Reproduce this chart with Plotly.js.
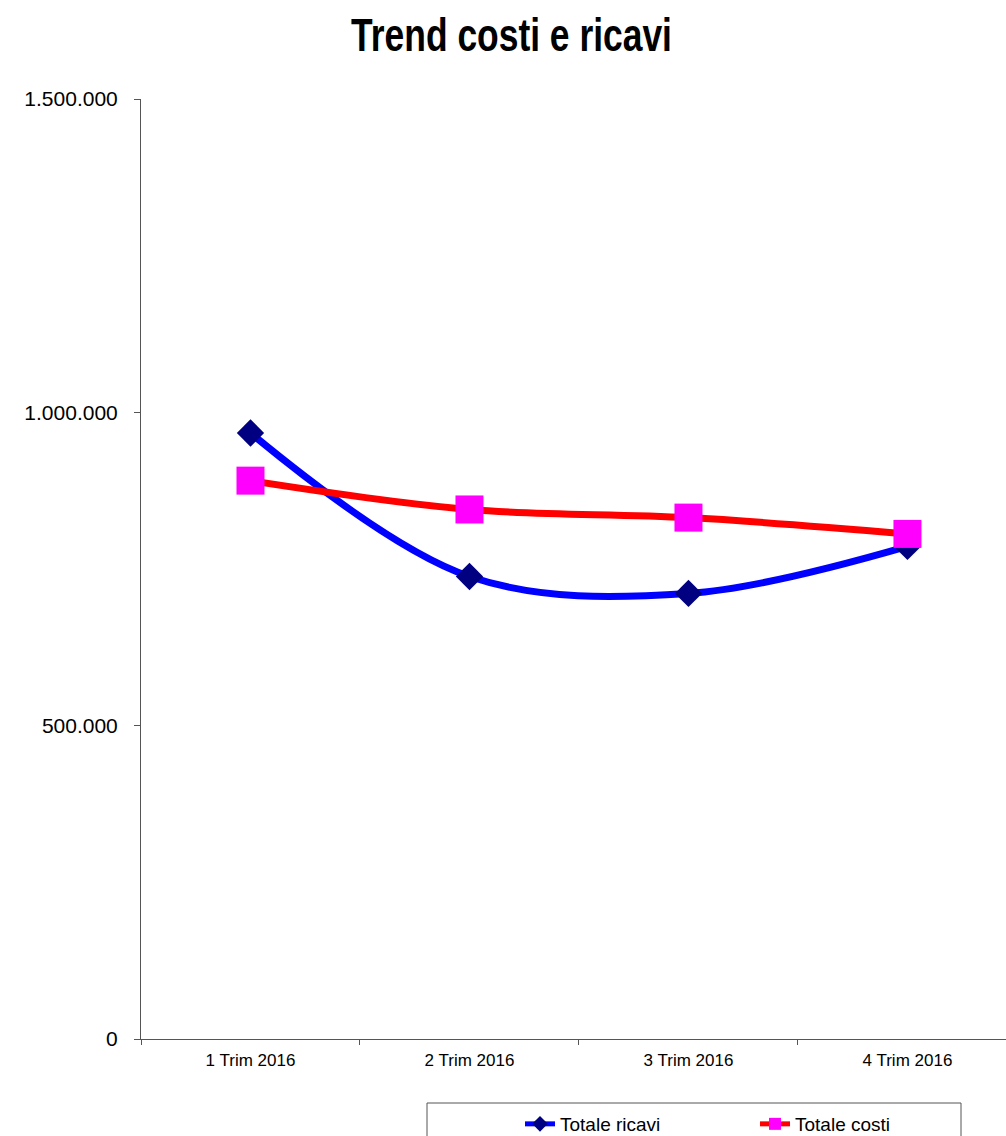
<!DOCTYPE html>
<html>
<head>
<meta charset="utf-8">
<script src="https://cdn.plot.ly/plotly-3.0.1.min.js"></script>
<style>
html,body{margin:0;padding:0;background:#fff;}
#chart{width:1006px;height:1136px;}
#chart .gtitle{transform-box:fill-box;transform-origin:center;transform:scaleX(0.77);}
</style>
</head>
<body>
<div id="chart"></div>
<script>
const categories = ['1 Trim 2016', '2 Trim 2016', '3 Trim 2016', '4 Trim 2016'];
const totaleRicavi = [967000, 738000, 711000, 786000];
const totaleCosti = [891000, 845000, 832000, 806000];
const yTickVals = [0, 500000, 1000000, 1500000];
const yTickText = ['0', '500.000', '1.000.000', '1.500.000'];

const traces = [
  {
    x: categories, y: totaleRicavi, name: 'Totale ricavi', type: 'scatter', mode: 'lines+markers',
    line: {color: '#0000FF', width: 7, shape: 'spline', smoothing: 1},
    marker: {symbol: 'diamond', color: '#000080', size: 21, line: {width: 0}}
  },
  {
    x: categories, y: totaleCosti, name: 'Totale costi', type: 'scatter', mode: 'lines+markers',
    line: {color: '#FF0000', width: 7, shape: 'spline', smoothing: 1},
    marker: {symbol: 'square', color: '#FF00FF', size: 28, line: {width: 0}}
  }
];

const layout = {
  width: 1006, height: 1136,
  paper_bgcolor: '#ffffff', plot_bgcolor: '#ffffff',
  margin: {l: 141, r: 0, t: 99, b: 97, autoexpand: false},
  font: {family: 'Liberation Sans, Arial, sans-serif', color: '#000000'},
  title: {
    text: 'Trend costi e ricavi',
    font: {family: 'Liberation Sans, Arial, sans-serif', size: 46, weight: 'bold', color: '#000'},
    x: 0.5085, xref: 'container', xanchor: 'center',
    y: 1 - 35 / 1136, yref: 'container', yanchor: 'middle'
  },
  xaxis: {
    type: 'category', range: [-0.5, 3.45],
    showgrid: false, zeroline: false,
    showline: true, linecolor: '#555555', linewidth: 1,
    ticks: 'outside', tickson: 'boundaries', ticklen: 5, tickcolor: '#555555',
    ticklabelstandoff: 6,
    tickfont: {size: 17, family: 'Liberation Sans, Arial, sans-serif'},
    fixedrange: true
  },
  yaxis: {
    range: [0, 1500000], tickvals: yTickVals, ticktext: yTickText,
    showgrid: false, zeroline: false,
    showline: true, linecolor: '#555555', linewidth: 1,
    ticks: 'outside', ticklen: 6, tickcolor: '#555555',
    ticklabelstandoff: 12,
    tickfont: {size: 21, family: 'Liberation Sans, Arial, sans-serif'},
    fixedrange: true
  },
  showlegend: true,
  legend: {
    orientation: 'h', x: (520 - 141) / 865, xanchor: 'left', y: (1039 - 1105) / 940, yanchor: 'top',
    bgcolor: 'rgba(0,0,0,0)', borderwidth: 0, itemsizing: 'constant',
    font: {size: 19, family: 'Liberation Sans, Arial, sans-serif'},
    entrywidth: 190, entrywidthmode: 'pixels', traceorder: 'normal'
  },
  shapes: [
    {type: 'rect', xref: 'paper', yref: 'paper', x0: (427 - 141) / 865, x1: (961 - 141) / 865,
     y0: (1039 - 1103) / 940, y1: (1039 - 1160) / 940, line: {color: '#555555', width: 1}, fillcolor: 'rgba(0,0,0,0)'}
  ]
};

Plotly.newPlot('chart', traces, layout, {displayModeBar: false, staticPlot: true});
</script>
</body>
</html>
